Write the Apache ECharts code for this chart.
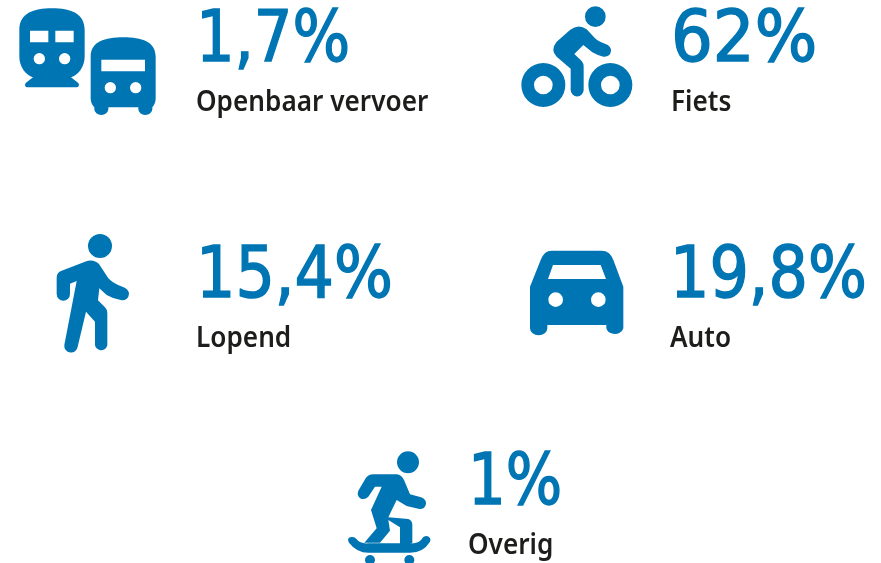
<!DOCTYPE html>
<html><head><meta charset="utf-8">
<style>html,body{margin:0;padding:0;background:#fff}#c{width:881px;height:563px}</style>
<script src="https://cdn.jsdelivr.net/npm/echarts@6/dist/echarts.min.js"></script></head>
<body><div id="c"></div>
<script>
const categories = ['Openbaar vervoer', 'Fiets', 'Lopend', 'Auto', 'Overig'];
const shares = [1.7, 62, 15.4, 19.8, 1];

// Layout only: where each tile's text starts and where its icon trace begins.
const textX = [196, 671, 196, 670, 468];
const valueBottomY = [78, 78, 314, 314, 521];
const nameBottomY = [117, 117, 353, 353, 560];
const valueScaleX = [0.95, 1.03, 0.97, 0.97, 0.93];
const iconOrigin = [[10, 0], [515, 0], [30, 225], [510, 235], [335, 440]];

const circle = (cx, cy, r, ccw) => `M${cx - r} ${cy}A${r} ${r} 0 1 ${ccw ? 0 : 1} ${cx + r} ${cy}A${r} ${r} 0 1 ${ccw ? 0 : 1} ${cx - r} ${cy}Z`;
const hole = (x0, y0, x1, y1) => `M${x0} ${y0}V${y1}H${x1}V${y0}Z`;

// Icons traced at 3x, placed with scale 1/3. Holes wind the other way.
const icons = [
  // train + bus
  'M28 90C28 40 70 25 126 25C182 25 224 40 224 90V170C224 200 205 225 183 232L204 248C210 255 206 262 198 262H54C46 262 42 255 48 248L69 232C47 225 28 200 28 170Z'
  + hole(60, 92, 115, 127) + hole(136, 92, 191, 127) + circle(88, 176, 17, true) + circle(164, 176, 17, true)
  + 'M242 170C242 125 285 112 340 112C395 112 437 125 437 170V295C437 310 430 318 427 322V328A21 17 0 0 1 385 328V322H295V328A21 17 0 0 1 253 328V322C250 318 242 310 242 295Z'
  + hole(274, 179, 405, 214) + circle(301, 263, 17, true) + circle(377, 263, 17, true),
  // bicycle
  circle(241, 50, 31) + circle(85, 255, 66) + circle(85, 255, 28, true) + circle(286, 255, 66) + circle(286, 255, 28, true)
  + 'M165 90Q190 70 215 88L240 115Q250 125 270 131Q289 138 288 153Q285 172 265 170Q245 165 232 157L205 135L178 162L200 183Q206 190 206 200V270A19 19 0 0 1 167 270V206L125 170Q105 150 125 125Z',
  // walker
  circle(210, 63, 36)
  + 'M165 110Q190 100 207 117Q222 140 235 160Q250 176 277 185Q297 192 297 207Q295 226 275 226Q250 222 230 210L208 190L204 226L225 247Q232 254 232 264V361A19 19 0 0 1 195 361V290L168 260L143 365A20 20 0 0 1 103 360L140 168L120 176V207A20 20 0 0 1 80 207V158Q80 142 95 137Z',
  // car
  'M125 47H275Q300 47 310 75L340 155V280A26 21 0 0 1 289 280V270H112V280A26 21 0 0 1 60 280V155L92 75Q102 47 125 47Z'
  + 'M129 90L114 132H288L272 90Z' + circle(137, 194, 22, true) + circle(265, 194, 22, true),
  // skateboarder
  circle(219, 67, 33) + circle(105, 360, 15) + circle(223, 360, 15)
  + 'M115 103H185Q200 105 207 120L225 163L258 172Q274 178 273 191Q270 208 253 207L215 198L185 180L160 232L220 237Q232 242 232 255V310H195V262L160 240L165 272L135 308H88L125 265L108 210L140 140H120L100 170Q90 180 78 176Q64 168 70 152L92 115Q100 103 115 103Z'
  + 'M45 292Q35 295 42 308Q65 338 100 338H225Q265 338 285 305Q290 292 275 288Q265 288 260 298Q250 312 225 310H100Q75 312 65 298Q58 288 45 292Z'
];

const BLUE = '#0075b4', INK = '#1d1d1b';
const fmt = v => String(v).replace('.', ',') + '%';
const NAME_SCALE = 0.935;

const chart = echarts.init(document.getElementById('c'), null, { renderer: 'canvas' });
chart.setOption({
  animation: false,
  backgroundColor: '#fff',
  grid: { left: 0, right: 0, top: 0, bottom: 0 },
  xAxis: { type: 'value', min: 0, max: 881, show: false },
  yAxis: { type: 'value', min: 0, max: 563, inverse: true, show: false },
  series: [{
    type: 'custom',
    coordinateSystem: 'cartesian2d',
    clip: false,
    silent: true,
    data: shares.map((v, i) => [textX[i], valueBottomY[i], v, i]),
    renderItem(params, api) {
      const i = api.value(3);
      const p = api.coord([api.value(0), api.value(1)]);
      const q = api.coord([api.value(0), nameBottomY[i]]);
      const o = api.coord(iconOrigin[i]);
      return {
        type: 'group',
        children: [
          { type: 'path', x: o[0], y: o[1], scaleX: 1 / 3, scaleY: 1 / 3,
            shape: { pathData: icons[i] },
            style: { fill: BLUE } },
          { type: 'text', x: p[0], y: p[1], scaleX: valueScaleX[i],
            style: { text: fmt(api.value(2)), fill: BLUE, stroke: BLUE, lineWidth: 1.4, align: 'left', verticalAlign: 'bottom',
              font: '400 71px "DejaVu Sans Condensed","DejaVu Sans"' } },
          { type: 'text', x: q[0], y: q[1], scaleX: NAME_SCALE,
            style: { text: categories[i], fill: INK, align: 'left', verticalAlign: 'bottom',
              font: '600 28px "Noto Sans"' } }
        ]
      };
    }
  }]
});
</script></body></html>
